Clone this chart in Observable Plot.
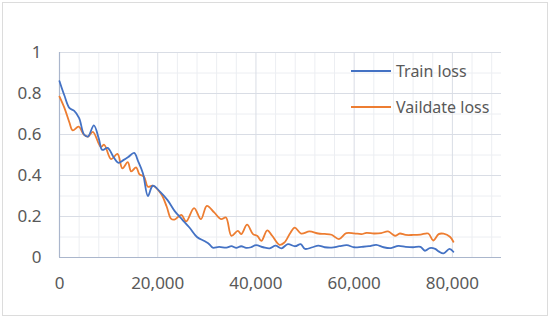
<!DOCTYPE html>
<html>
<head>
<meta charset="utf-8">
<script src="https://cdn.jsdelivr.net/npm/d3@7"></script>
<script src="https://cdn.jsdelivr.net/npm/@observablehq/plot@0.6"></script>
<style>
  html, body { margin: 0; padding: 0; background: #fff; }
  #wrap { position: relative; width: 550px; height: 319px; font-family: "Noto Sans", sans-serif; }
  #border { position: absolute; left: 2px; top: 2px; width: 544px; height: 312px; border: 1px solid #dcdcdc; box-sizing: content-box; pointer-events: none; }
  .leg { position: absolute; display: flex; align-items: center; font-size: 16px; color: #595959; white-space: nowrap; }
  .leg .sw { width: 40px; height: 2px; margin-right: 5px; }
</style>
</head>
<body>
<div id="wrap"><div id="border"></div></div>
<script>
const seriesNames = ["Train loss", "Vaildate loss"];
const seriesColors = ["#4472C4", "#ED7D31"];

const trainSteps = [0,1000,2000,3000,4000,5000,5800,7000,8000,8700,9800,11000,12000,13000,14000,15200,16000,17000,18000,19000,20500,22000,23500,25000,26500,28000,29500,30500,31200,32500,34000,35000,36000,37000,38000,39000,40000,41500,42800,44000,45200,46500,48000,49100,50000,51500,52700,54000,55400,57000,58500,60000,61500,63000,64500,66000,67500,69000,70500,72000,73500,74400,75400,76500,77200,78200,79400,80200];
const trainLoss = [0.86,0.79,0.73,0.715,0.68,0.60,0.59,0.645,0.58,0.525,0.535,0.49,0.462,0.475,0.49,0.51,0.47,0.41,0.30,0.35,0.32,0.28,0.225,0.185,0.145,0.10,0.08,0.065,0.048,0.052,0.048,0.055,0.047,0.055,0.047,0.05,0.06,0.05,0.045,0.058,0.045,0.065,0.055,0.065,0.042,0.05,0.058,0.05,0.048,0.055,0.06,0.05,0.052,0.055,0.062,0.05,0.046,0.057,0.052,0.05,0.052,0.033,0.046,0.042,0.03,0.02,0.042,0.028];

const valSteps = [0,1000,2000,2700,3900,5000,5800,6800,8400,9100,10500,11800,12800,13900,14600,15600,16300,17200,18000,19000,20700,21800,22700,23400,24800,25800,27400,28800,30000,31500,32900,33900,35000,36300,37000,38200,39400,40300,41100,42300,43300,44800,45800,47000,47900,49200,50900,52700,54000,55400,56900,58400,60000,61500,62500,64000,65500,66900,68300,69300,70500,72000,73500,75100,76100,77200,78200,79500,80200];
const valLoss = [0.785,0.73,0.66,0.62,0.638,0.598,0.59,0.613,0.54,0.55,0.48,0.505,0.435,0.465,0.42,0.44,0.405,0.395,0.345,0.35,0.31,0.25,0.19,0.185,0.208,0.176,0.241,0.187,0.252,0.22,0.187,0.195,0.106,0.13,0.114,0.16,0.114,0.105,0.081,0.132,0.106,0.062,0.073,0.12,0.146,0.117,0.127,0.117,0.115,0.111,0.09,0.119,0.118,0.114,0.12,0.117,0.119,0.127,0.106,0.117,0.11,0.11,0.112,0.117,0.083,0.114,0.116,0.101,0.077];

const xTicks = [0, 20000, 40000, 60000, 80000];
const xMinor = [4000,8000,12000,16000,24000,28000,32000,36000,44000,48000,52000,56000,64000,68000,72000,76000,84000,88000];
const yTicks = [0, 0.2, 0.4, 0.6, 0.8, 1];
const yMinor = [0.1, 0.3, 0.5, 0.7, 0.9];

const train = trainSteps.map((s, i) => ({step: s, loss: trainLoss[i]}));
const val = valSteps.map((s, i) => ({step: s, loss: valLoss[i]}));

const axisColor = "#aab6cc";
const chart = Plot.plot({
  width: 550,
  height: 319,
  marginLeft: 59,
  marginRight: 49,
  marginTop: 52,
  marginBottom: 62,
  style: {fontFamily: "Noto Sans, sans-serif", fontSize: "17px", color: "#595959", background: "transparent"},
  x: {domain: [0, 90000]},
  y: {domain: [0, 1]},
  marks: [
    Plot.ruleY(yMinor, {stroke: "#eceef2", strokeWidth: 1}),
    Plot.ruleX(xMinor, {stroke: "#eceef2", strokeWidth: 1}),
    Plot.ruleY(yTicks.slice(1), {stroke: "#d9dde5", strokeWidth: 1}),
    Plot.ruleX(xTicks.slice(1), {stroke: "#d9dde5", strokeWidth: 1}),
    Plot.ruleX([0], {stroke: axisColor, strokeWidth: 1.2}),
    Plot.ruleY([0], {stroke: axisColor, strokeWidth: 1.2}),
    Plot.axisX(xTicks, {tickSize: 0, tickPadding: 19, tickFormat: d3.format(","), label: null}),
    Plot.axisY(yTicks, {tickSize: 0, tickPadding: 18, tickFormat: d => String(d), label: null}),
    Plot.line(val, {x: "step", y: "loss", stroke: seriesColors[1], strokeWidth: 1.8, curve: "catmull-rom"}),
    Plot.line(train, {x: "step", y: "loss", stroke: seriesColors[0], strokeWidth: 1.8, curve: "catmull-rom"})
  ]
});
const wrap = document.getElementById("wrap");
wrap.insertBefore(chart, wrap.firstChild);
chart.style.position = "absolute";
chart.style.left = "0";
chart.style.top = "0";

const legTops = [71, 106.5];
seriesNames.forEach((name, i) => {
  const d = document.createElement("div");
  d.className = "leg";
  d.style.left = "351px";
  d.style.top = (legTops[i] - 11) + "px";
  d.style.height = "22px";
  d.innerHTML = `<span class="sw" style="background:${seriesColors[i]}"></span><span>${name}</span>`;
  wrap.appendChild(d);
});
</script>
</body>
</html>
